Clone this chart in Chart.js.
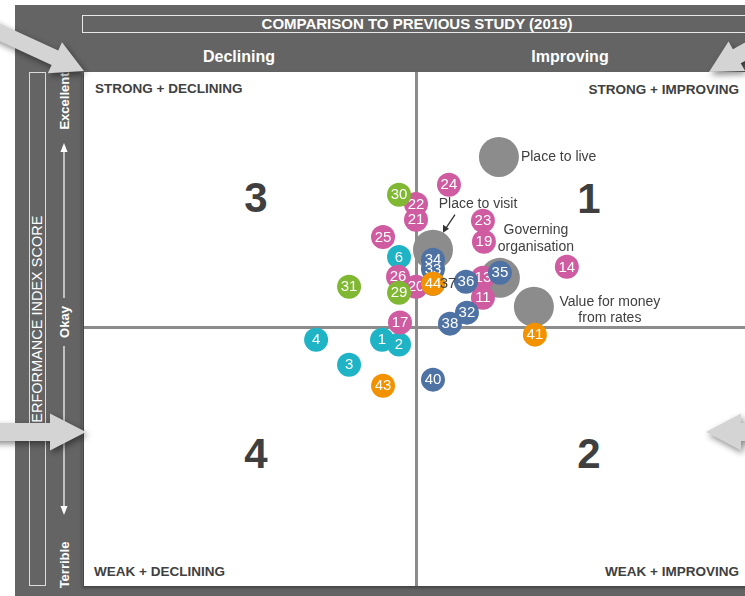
<!DOCTYPE html>
<html>
<head>
<meta charset="utf-8">
<script src="https://cdn.jsdelivr.net/npm/chart.js@4.4.0/dist/chart.umd.min.js"></script>
<style>
  body { margin: 0; background: #fff; }
  #wrap { position: relative; width: 745px; height: 596px; overflow: hidden; font-family: "Liberation Sans", Arial, sans-serif; }
  #frame { position: absolute; left: 15px; top: 5px; width: 730px; height: 591px; background: #646464; }
  .narrow { font-family: "Liberation Sans Narrow", "Arial Narrow", "Liberation Sans", sans-serif; }
  #title { position: absolute; left: 82px; top: 15px; width: 668px; height: 16px; border: 1px solid #e8e8e8;
           color: #fff; font-weight: bold; font-size: 15px; line-height: 16px; text-align: center; }
  .head { position: absolute; top: 48px; width: 200px; text-align: center; color: #fff; font-weight: bold; font-size: 16px; }
  #ybox { position: absolute; left: 29px; top: 72px; width: 15px; height: 512px; border: 1px solid #dcdcdc; }
  #ystrip { position: absolute; left: 46px; top: 72px; width: 36px; height: 514px; border-right: 1px solid #7c7c7c; }
  .rot { position: absolute; transform: translate(-50%, -50%) rotate(-90deg); white-space: nowrap; color: #fff; }
  #plot { position: absolute; left: 84px; top: 72px; width: 670px; height: 514px; background: #fff;
          box-shadow: -2px 2px 3px rgba(0,0,0,0.35); }
  .quad { position: absolute; font-weight: bold; font-size: 13.5px; color: #404040; white-space: nowrap; }
  .big { position: absolute; width: 60px; margin-left: -30px; text-align: center; font-weight: bold; font-size: 42px; color: #3f3f3f; line-height: 42px; }
  #yarrows { position: absolute; left: 0; top: 0; }
  #c { position: absolute; left: 0; top: 0; }
</style>
</head>
<body>
<div id="wrap">
  <div id="frame"></div>
  <div id="title" class="narrow">COMPARISON TO PREVIOUS STUDY (2019)</div>
  <div class="head narrow" style="left:139px">Declining</div>
  <div class="head narrow" style="left:470px">Improving</div>
  <div id="ybox"></div>
  <div id="ystrip"></div>
  <div class="rot" style="left:37px; top:324px; font-size:14.5px;">PERFORMANCE INDEX SCORE</div>
  <div class="rot narrow" style="left:64px; top:101px; font-size:13px; font-weight:bold;">Excellent</div>
  <div class="rot narrow" style="left:64px; top:322px; font-size:13px; font-weight:bold;">Okay</div>
  <div class="rot narrow" style="left:64px; top:565px; font-size:13px; font-weight:bold;">Terrible</div>
  <svg id="yarrows" width="745" height="596">
    <line x1="64" y1="150" x2="64" y2="298" stroke="#fff" stroke-width="1.2"/>
    <polygon points="64,143 60.5,152 67.5,152" fill="#fff"/>
    <line x1="64" y1="346" x2="64" y2="508" stroke="#fff" stroke-width="1.2"/>
    <polygon points="64,515 60.5,506 67.5,506" fill="#fff"/>
  </svg>
  <div id="plot"></div>
  <div class="quad" style="left:95px; top:81px;">STRONG + DECLINING</div>
  <div class="quad" style="right:6px; top:82px;">STRONG + IMPROVING</div>
  <div class="quad" style="left:94px; top:564px;">WEAK + DECLINING</div>
  <div class="quad" style="right:6px; top:564px;">WEAK + IMPROVING</div>
  <div class="big" style="left:256px; top:177px;">3</div>
  <div class="big" style="left:589px; top:178px;">1</div>
  <div class="big" style="left:256px; top:433px;">4</div>
  <div class="big" style="left:589px; top:433px;">2</div>
  <canvas id="c" width="745" height="596"></canvas>
</div>
<script>
// x = change since 2019 study, y = performance index (0 = okay)
const pinkLabels = ['24', '22', '21', '23', '19', '25', '26', '20', '13', '11', '14', '17'];
const pinkX = [0.96, -0.03, -0.03, 1.98, 2.01, -1.02, -0.57, -0.03, 1.98, 1.98, 4.5, -0.51];
const pinkY = [5.59, 4.84, 4.22, 4.18, 3.36, 3.55, 1.99, 1.6, 1.95, 1.17, 2.38, 0.2];

const tealLabels = ['6', '4', '1', '2', '3'];
const tealX = [-0.54, -3.03, -1.05, -0.54, -2.04];
const tealY = [2.77, -0.47, -0.47, -0.66, -1.45];

const greenLabels = ['30', '31', '29'];
const greenX = [-0.54, -2.04, -0.54];
const greenY = [5.2, 1.6, 1.37];

const blueLabels = ['37', '33', '34', '36', '35', '32', '38', '40'];
const blueX = [0.48, 0.48, 0.48, 1.47, 2.49, 1.5, 0.99, 0.48];
const blueY = [1.72, 2.3, 2.66, 1.8, 2.15, 0.59, 0.16, -2.03];

const orangeLabels = ['44', '41', '43'];
const orangeX = [0.48, 3.54, -1.02];
const orangeY = [1.72, -0.27, -2.27];

const overallLabels = ['Place to live', 'Place to visit', 'Governing organisation', 'Value for money from rates'];
const overallX = [2.46, 0.48, 2.49, 3.51];
const overallY = [6.68, 3.05, 1.95, 0.82];

const xMin = -10, xMax = 9.85, yMin = -10.1, yMax = 10;

function pts(xs, ys, r) {
  return xs.map((x, i) => ({ x: x, y: ys[i], r: r }));
}

const labelPlugin = {
  id: 'bubbleLabels',
  afterDatasetDraw(chart, args) {
    const ds = chart.data.datasets[args.index];
    const ctx = chart.ctx;
    ctx.save();
    ctx.textAlign = 'center';
    ctx.textBaseline = 'middle';
    ctx.font = '15px "Liberation Sans", Arial, sans-serif';
    args.meta.data.forEach((el, i) => {
      const txt = ds.labels[i];
      if (ds.overall) {
        ctx.fillStyle = '#404040';
        ctx.font = '14px "Liberation Sans", Arial, sans-serif';
        if (i === 0) {
          ctx.textAlign = 'left';
          ctx.fillText('Place to live', el.x + 22, el.y);
        } else if (i === 1) {
          ctx.textAlign = 'center';
          ctx.fillText('Place to visit', el.x + 45, el.y - 46);
          ctx.strokeStyle = '#333';
          ctx.lineWidth = 1.3;
          ctx.beginPath();
          ctx.moveTo(el.x + 22, el.y - 35);
          ctx.lineTo(el.x + 12, el.y - 20);
          ctx.stroke();
          ctx.fillStyle = '#333';
          ctx.beginPath();
          ctx.moveTo(el.x + 10, el.y - 17);
          ctx.lineTo(el.x + 10, el.y - 25);
          ctx.lineTo(el.x + 16, el.y - 21);
          ctx.closePath();
          ctx.fill();
        } else if (i === 2) {
          ctx.textAlign = 'center';
          ctx.fillText('Governing', el.x + 36, el.y - 48);
          ctx.fillText('organisation', el.x + 36, el.y - 31);
        } else {
          ctx.textAlign = 'center';
          ctx.fillText('Value for money', el.x + 76, el.y - 5);
          ctx.fillText('from rates', el.x + 76, el.y + 11);
        }
        return;
      }
      if (txt !== '37') {
        ctx.fillStyle = '#fff';
        ctx.fillText(txt, el.x, el.y + 0.5);
      }
    });
    ctx.restore();
  },
  // label 37 sits outside its (hidden) bubble, on top of everything
  afterDatasetsDraw(chart) {
    const idx = blueLabels.indexOf('37');
    const el = chart.getDatasetMeta(1).data[idx];
    const ctx = chart.ctx;
    ctx.save();
    ctx.font = '15px "Liberation Sans", Arial, sans-serif';
    ctx.textAlign = 'center';
    ctx.textBaseline = 'middle';
    ctx.fillStyle = '#404040';
    ctx.fillText('37', el.x + 15, el.y);
    ctx.restore();
  }
};

function bigArrow(ctx, tipX, tipY, dx, dy, len, shaftW, headW, headL) {
  const px = -dy, py = dx;
  const bx = tipX - dx * headL, by = tipY - dy * headL;
  const tx = tipX - dx * len, ty = tipY - dy * len;
  ctx.beginPath();
  ctx.moveTo(tipX, tipY);
  ctx.lineTo(bx + px * headW / 2, by + py * headW / 2);
  ctx.lineTo(bx + px * shaftW / 2, by + py * shaftW / 2);
  ctx.lineTo(tx + px * shaftW / 2, ty + py * shaftW / 2);
  ctx.lineTo(tx - px * shaftW / 2, ty - py * shaftW / 2);
  ctx.lineTo(bx - px * shaftW / 2, by - py * shaftW / 2);
  ctx.lineTo(bx - px * headW / 2, by - py * headW / 2);
  ctx.closePath();
  ctx.fill();
}

const arrowPlugin = {
  id: 'pointerArrows',
  afterDraw(chart) {
    const ctx = chart.ctx;
    ctx.save();
    ctx.fillStyle = '#d4d4d4';
    ctx.shadowColor = 'rgba(0,0,0,0.45)';
    ctx.shadowBlur = 6;
    ctx.shadowOffsetX = 2;
    ctx.shadowOffsetY = 3;
    bigArrow(ctx, 84, 71, 0.909, 0.416, 120, 16, 34, 32);
    bigArrow(ctx, 709, 72, -0.87, 0.49, 120, 16, 34, 32);
    bigArrow(ctx, 86, 432, 1, 0, 120, 18, 37, 36);
    bigArrow(ctx, 706, 432, -1, 0, 120, 18, 37, 35);
    ctx.restore();
  }
};

const zeroGrid = {
  color: c => (c.tick && c.tick.value === 0 ? '#8c8c8c' : 'rgba(0,0,0,0)'),
  lineWidth: 3,
  drawTicks: false
};

new Chart(document.getElementById('c'), {
  type: 'bubble',
  data: {
    datasets: [
      { labels: orangeLabels, data: pts(orangeX, orangeY, 12), backgroundColor: '#f39200', borderWidth: 0 },
      { labels: blueLabels, data: pts(blueX, blueY, 12), backgroundColor: '#4e72a3', borderWidth: 0 },
      { labels: greenLabels, data: pts(greenX, greenY, 12), backgroundColor: '#80b833', borderWidth: 0 },
      { labels: pinkLabels, data: pts(pinkX, pinkY, 12), backgroundColor: '#cf5ca1', borderWidth: 0 },
      { labels: tealLabels, data: pts(tealX, tealY, 12), backgroundColor: '#1fb4c5', borderWidth: 0 },
      { labels: overallLabels, overall: true, data: pts(overallX, overallY, 20), backgroundColor: '#8c8c8c', borderWidth: 0 }
    ]
  },
  options: {
    responsive: false,
    animation: false,
    layout: { autoPadding: false, padding: { left: 84, top: 72, right: 0, bottom: 10 } },
    plugins: { legend: { display: false }, tooltip: { enabled: false } },
    scales: {
      x: {
        min: xMin, max: xMax,
        ticks: { display: false, stepSize: 5 },
        grid: zeroGrid,
        border: { display: false }
      },
      y: {
        min: yMin, max: yMax,
        ticks: { display: false, stepSize: 5 },
        grid: zeroGrid,
        border: { display: false }
      }
    }
  },
  plugins: [labelPlugin, arrowPlugin]
});
</script>
</body>
</html>
